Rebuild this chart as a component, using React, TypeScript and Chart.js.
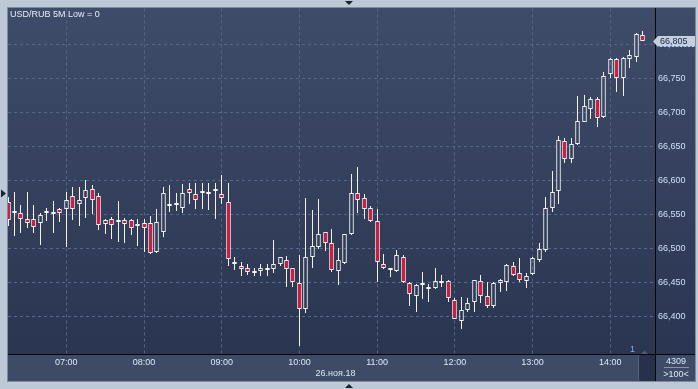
import React, { useEffect, useRef } from 'react';
import { Chart, registerables } from 'chart.js';

Chart.register(...registerables);

// 5-minute candles, 06:15 ... 14:25 (index 0..98)
const opens = [
  66.569, 66.552, 66.552, 66.544, 66.544, 66.537, 66.553, 66.551, 66.558, 66.558,
  66.577, 66.566, 66.574, 66.588, 66.578, 66.536, 66.543, 66.539, 66.542, 66.542,
  66.533, 66.538, 66.537, 66.495, 66.525, 66.566, 66.564, 66.560, 66.588, 66.580,
  66.582, 66.580, 66.588, 66.580, 66.569, 66.480, 66.475, 66.472, 66.467, 66.467,
  66.468, 66.470, 66.478, 66.484, 66.471, 66.449, 66.411, 66.487, 66.503, 66.525,
  66.508, 66.467, 66.479, 66.522, 66.581, 66.574, 66.560, 66.541, 66.477, 66.468,
  66.467, 66.488, 66.449, 66.431, 66.449, 66.444, 66.442, 66.450, 66.452, 66.424,
  66.394, 66.410, 66.421, 66.452, 66.430, 66.416, 66.449, 66.451, 66.474, 66.464,
  66.453, 66.463, 66.484, 66.498, 66.560, 66.585, 66.658, 66.632, 66.653, 66.686,
  66.705, 66.720, 66.693, 66.756, 66.779, 66.750, 66.779, 66.782, 66.814,
];
const highs = [
  66.576, 66.583, 66.564, 66.583, 66.564, 66.552, 66.560, 66.570, 66.560, 66.583,
  66.591, 66.591, 66.601, 66.593, 66.581, 66.544, 66.547, 66.570, 66.545, 66.544,
  66.543, 66.543, 66.548, 66.558, 66.591, 66.593, 66.582, 66.595, 66.597, 66.596,
  66.596, 66.597, 66.596, 66.608, 66.597, 66.487, 66.480, 66.478, 66.472, 66.478,
  66.477, 66.513, 66.488, 66.489, 66.471, 66.491, 66.575, 66.557, 66.573, 66.525,
  66.529, 66.501, 66.522, 66.610, 66.620, 66.580, 66.563, 66.558, 66.492, 66.471,
  66.498, 66.490, 66.451, 66.448, 66.465, 66.448, 66.472, 66.461, 66.454, 66.427,
  66.429, 66.427, 66.454, 66.461, 66.451, 66.451, 66.455, 66.478, 66.480, 66.486,
  66.464, 66.488, 66.508, 66.576, 66.614, 66.665, 66.662, 66.663, 66.724, 66.725,
  66.722, 66.723, 66.760, 66.780, 66.780, 66.782, 66.792, 66.817, 66.819,
];
const lows = [
  66.533, 66.519, 66.523, 66.531, 66.523, 66.505, 66.541, 66.523, 66.539, 66.503,
  66.542, 66.533, 66.545, 66.551, 66.527, 66.521, 66.514, 66.510, 66.509, 66.520,
  66.504, 66.495, 66.492, 66.494, 66.517, 66.554, 66.555, 66.553, 66.566, 66.558,
  66.558, 66.556, 66.544, 66.565, 66.474, 66.468, 66.460, 66.461, 66.460, 66.460,
  66.460, 66.464, 66.474, 66.444, 66.443, 66.357, 66.406, 66.472, 66.500, 66.497,
  66.465, 66.446, 66.478, 66.520, 66.553, 66.543, 66.539, 66.451, 66.470, 66.458,
  66.465, 66.450, 66.416, 66.407, 66.426, 66.422, 66.440, 66.443, 66.422, 66.396,
  66.382, 66.407, 66.407, 66.420, 66.413, 66.413, 66.437, 66.438, 66.460, 66.451,
  66.442, 66.461, 66.480, 66.495, 66.554, 66.566, 66.625, 66.626, 66.652, 66.686,
  66.690, 66.679, 66.692, 66.750, 66.730, 66.724, 66.765, 66.774, 66.805,
];
const closes = [
  66.542, 66.552, 66.543, 66.538, 66.532, 66.549, 66.553, 66.551, 66.553, 66.572,
  66.558, 66.572, 66.586, 66.572, 66.534, 66.542, 66.534, 66.539, 66.536, 66.531,
  66.533, 66.531, 66.493, 66.539, 66.581, 66.563, 66.564, 66.581, 66.581, 66.572,
  66.582, 66.580, 66.584, 66.574, 66.485, 66.477, 66.470, 66.465, 66.464, 66.471,
  66.471, 66.477, 66.487, 66.470, 66.451, 66.411, 66.487, 66.504, 66.522, 66.509,
  66.468, 66.483, 66.521, 66.582, 66.572, 66.558, 66.541, 66.480, 66.471, 66.468,
  66.490, 66.451, 66.433, 66.447, 66.446, 66.440, 66.452, 66.450, 66.427, 66.397,
  66.410, 66.420, 66.454, 66.431, 66.416, 66.449, 66.454, 66.476, 66.462, 66.454,
  66.460, 66.486, 66.500, 66.559, 66.583, 66.659, 66.632, 66.653, 66.687, 66.709,
  66.719, 66.692, 66.754, 66.779, 66.751, 66.780, 66.784, 66.815, 66.805,
];

const hourTickIndex = [9, 21, 33, 45, 57, 69, 81, 93];
const hourTickLabels = ['07:00', '08:00', '09:00', '10:00', '11:00', '12:00', '13:00', '14:00'];
const priceTicks = [66.4, 66.45, 66.5, 66.55, 66.6, 66.65, 66.7, 66.75, 66.8];
const yMin = 66.3453;
const yMax = 66.8527;
const xMin = 0;
const xMax = 99.9;

const chartTitle = 'USD/RUB 5M Low = 0';
const dateLabel = '26.ноя.18';
const barCountLabel = '4309';
const zoomLabel = '>100<';
const pageLabel = '1';

const FONT = '"Liberation Sans", Arial, sans-serif';
const RED = '#e2143c';
const WHITE = '#f6f6f6';
const WICK = '#f6f1ea';
const GRID = '#55668a';

const fmtPrice = (v: number) => v.toFixed(3).replace('.', ',');

const snapPlugin = {
  id: 'snap',
  afterDatasetsUpdate(chart: any) {
    chart.data.datasets.forEach((_: any, di: number) => {
      const meta = chart.getDatasetMeta(di);
      meta.data.forEach((el: any) => {
        if (!el) return;
        el.x = Math.floor(el.x) + 0.5;
        el.y = Math.round(el.y);
        el.base = Math.round(el.base);
      });
    });
  },
};

const framePlugin = {
  id: 'frame',
  beforeDraw(chart: any) {
    const ctx = chart.ctx as CanvasRenderingContext2D;
    ctx.save();
    ctx.fillStyle = '#bec9d7';
    ctx.fillRect(0, 0, chart.width, chart.height);
    const g = ctx.createLinearGradient(0, 8, 0, 354);
    g.addColorStop(0, '#3f4c69');
    g.addColorStop(1, '#2a3551');
    ctx.fillStyle = g;
    ctx.fillRect(8, 8, 687, 347);
    ctx.fillStyle = '#3e4b67';
    ctx.fillRect(8, 355, 687, 26);
    ctx.restore();
  },
  afterDraw(chart: any) {
    const ctx = chart.ctx as CanvasRenderingContext2D;
    const yScale = chart.scales.y;
    ctx.save();
    ctx.strokeStyle = '#7d8aa2';
    ctx.lineWidth = 1;
    ctx.strokeRect(7.5, 7.5, 688, 374);
    ctx.fillStyle = '#05070b';
    ctx.fillRect(8, 354, 687, 1);
    ctx.fillRect(655, 8, 1, 373);

    ctx.font = `9px ${FONT}`;
    ctx.fillStyle = '#e8edf5';
    ctx.textBaseline = 'middle';
    ctx.textAlign = 'left';
    ctx.fillText(chartTitle, 10, 15);

    ctx.fillStyle = '#dfe7f2';
    ctx.textAlign = 'center';
    ctx.fillText(dateLabel, 335.5, 374);

    ctx.fillStyle = '#dfe7f2';
    ctx.fillText(barCountLabel, 676, 361.5);
    ctx.fillText(zoomLabel, 676, 374.5);
    ctx.fillStyle = '#8792a6';
    ctx.fillRect(664, 367, 25, 1);

    ctx.fillStyle = '#27324a';
    ctx.fillRect(639, 355, 16, 26);
    ctx.fillStyle = '#56627a';
    ctx.fillRect(638, 355, 1, 26);
    ctx.fillStyle = '#4f5b72';
    ctx.beginPath();
    ctx.moveTo(641, 354);
    ctx.lineTo(648, 354);
    ctx.lineTo(644.5, 350.5);
    ctx.closePath();
    ctx.fill();
    ctx.fillStyle = '#7fb0f0';
    ctx.fillText(pageLabel, 632.5, 349.5);

    const last = closes[closes.length - 1];
    const py = Math.round(yScale.getPixelForValue(last)) + 0.5;
    ctx.fillStyle = '#c6cfdb';
    ctx.beginPath();
    ctx.moveTo(653, py);
    ctx.lineTo(658, py - 5.5);
    ctx.lineTo(695, py - 5.5);
    ctx.lineTo(695, py + 5.5);
    ctx.lineTo(658, py + 5.5);
    ctx.closePath();
    ctx.fill();
    ctx.strokeStyle = '#4a7fd0';
    ctx.setLineDash([2, 2]);
    ctx.beginPath();
    ctx.moveTo(658, py + 5);
    ctx.lineTo(695, py + 5);
    ctx.stroke();
    ctx.setLineDash([]);
    ctx.fillStyle = '#14284a';
    ctx.textAlign = 'left';
    ctx.fillText(fmtPrice(last), 660, py);

    ctx.fillStyle = '#1a2230';
    ctx.beginPath();
    ctx.moveTo(345, 1);
    ctx.lineTo(353, 1);
    ctx.lineTo(349, 5);
    ctx.closePath();
    ctx.fill();
    ctx.beginPath();
    ctx.moveTo(345, 388);
    ctx.lineTo(353, 388);
    ctx.lineTo(349, 384);
    ctx.closePath();
    ctx.fill();
    ctx.beginPath();
    ctx.moveTo(1, 189.5);
    ctx.lineTo(6, 193.5);
    ctx.lineTo(1, 197.5);
    ctx.closePath();
    ctx.fill();
    ctx.restore();
  },
};

export default function App() {
  const ref = useRef<HTMLCanvasElement>(null);

  useEffect(() => {
    const canvas = ref.current;
    if (!canvas) return;
    const idx = opens.map((_, i) => i);
    const bodies = idx.map((i) => ({ x: i, y: [opens[i], closes[i]] }));
    const upper = idx
      .filter((i) => highs[i] > Math.max(opens[i], closes[i]))
      .map((i) => ({ x: i, y: [Math.max(opens[i], closes[i]), highs[i]] }));
    const lower = idx
      .filter((i) => lows[i] < Math.min(opens[i], closes[i]))
      .map((i) => ({ x: i, y: [lows[i], Math.min(opens[i], closes[i])] }));
    const bodyBg = idx.map((i) =>
      closes[i] < opens[i] ? RED : closes[i] > opens[i] ? 'rgba(0,0,0,0)' : WHITE
    );

    const chart = new Chart(canvas, {
      type: 'bar',
      data: {
        datasets: [
          {
            data: bodies as any,
            backgroundColor: bodyBg,
            borderColor: WHITE,
            borderWidth: 1,
            borderSkipped: false,
            grouped: false,
            maxBarThickness: 5,
            minBarLength: 2,
            order: 0,
          } as any,
          {
            data: upper as any,
            backgroundColor: WICK,
            borderWidth: 0,
            grouped: false,
            maxBarThickness: 1,
            order: 1,
          } as any,
          {
            data: lower as any,
            backgroundColor: WICK,
            borderWidth: 0,
            grouped: false,
            maxBarThickness: 1,
            order: 1,
          } as any,
        ],
      },
      options: {
        animation: false,
        responsive: false,
        devicePixelRatio: 1,
        layout: { padding: { left: 8, top: 8, right: 3, bottom: 8 } },
        plugins: {
          legend: { display: false },
          tooltip: { enabled: false },
        },
        scales: {
          x: {
            type: 'linear',
            position: 'bottom',
            offset: false,
            min: xMin,
            max: xMax,
            afterBuildTicks: (s: any) => {
              s.ticks = hourTickIndex.map((v) => ({ value: v }));
            },
            afterFit: (s: any) => {
              s.height = 27;
            },
            ticks: {
              autoSkip: false,
              maxRotation: 0,
              padding: 3,
              color: '#dfe7f2',
              font: { family: FONT, size: 9 },
              callback: (_v: any, i: number) => hourTickLabels[i],
            },
            grid: { color: GRID, lineWidth: 1, drawTicks: false, offset: false },
            border: { display: false, dash: [3, 3] },
          },
          y: {
            type: 'linear',
            position: 'right',
            min: yMin,
            max: yMax,
            afterBuildTicks: (s: any) => {
              s.ticks = priceTicks.map((v) => ({ value: v }));
            },
            afterFit: (s: any) => {
              s.width = 40;
            },
            ticks: {
              padding: 3,
              color: '#cde0f7',
              font: { family: FONT, size: 9 },
              callback: (v: any) => fmtPrice(Number(v)),
            },
            grid: { color: GRID, lineWidth: 1, drawTicks: false },
            border: { display: false, dash: [3, 3] },
          },
        },
      } as any,
      plugins: [framePlugin, snapPlugin],
    });
    return () => chart.destroy();
  }, []);

  return (
    <div style={{ position: 'fixed', left: 0, top: 0, width: 698, height: 389 }}>
      <canvas ref={ref} width={698} height={389} style={{ display: 'block', width: 698, height: 389 }} />
    </div>
  );
}
